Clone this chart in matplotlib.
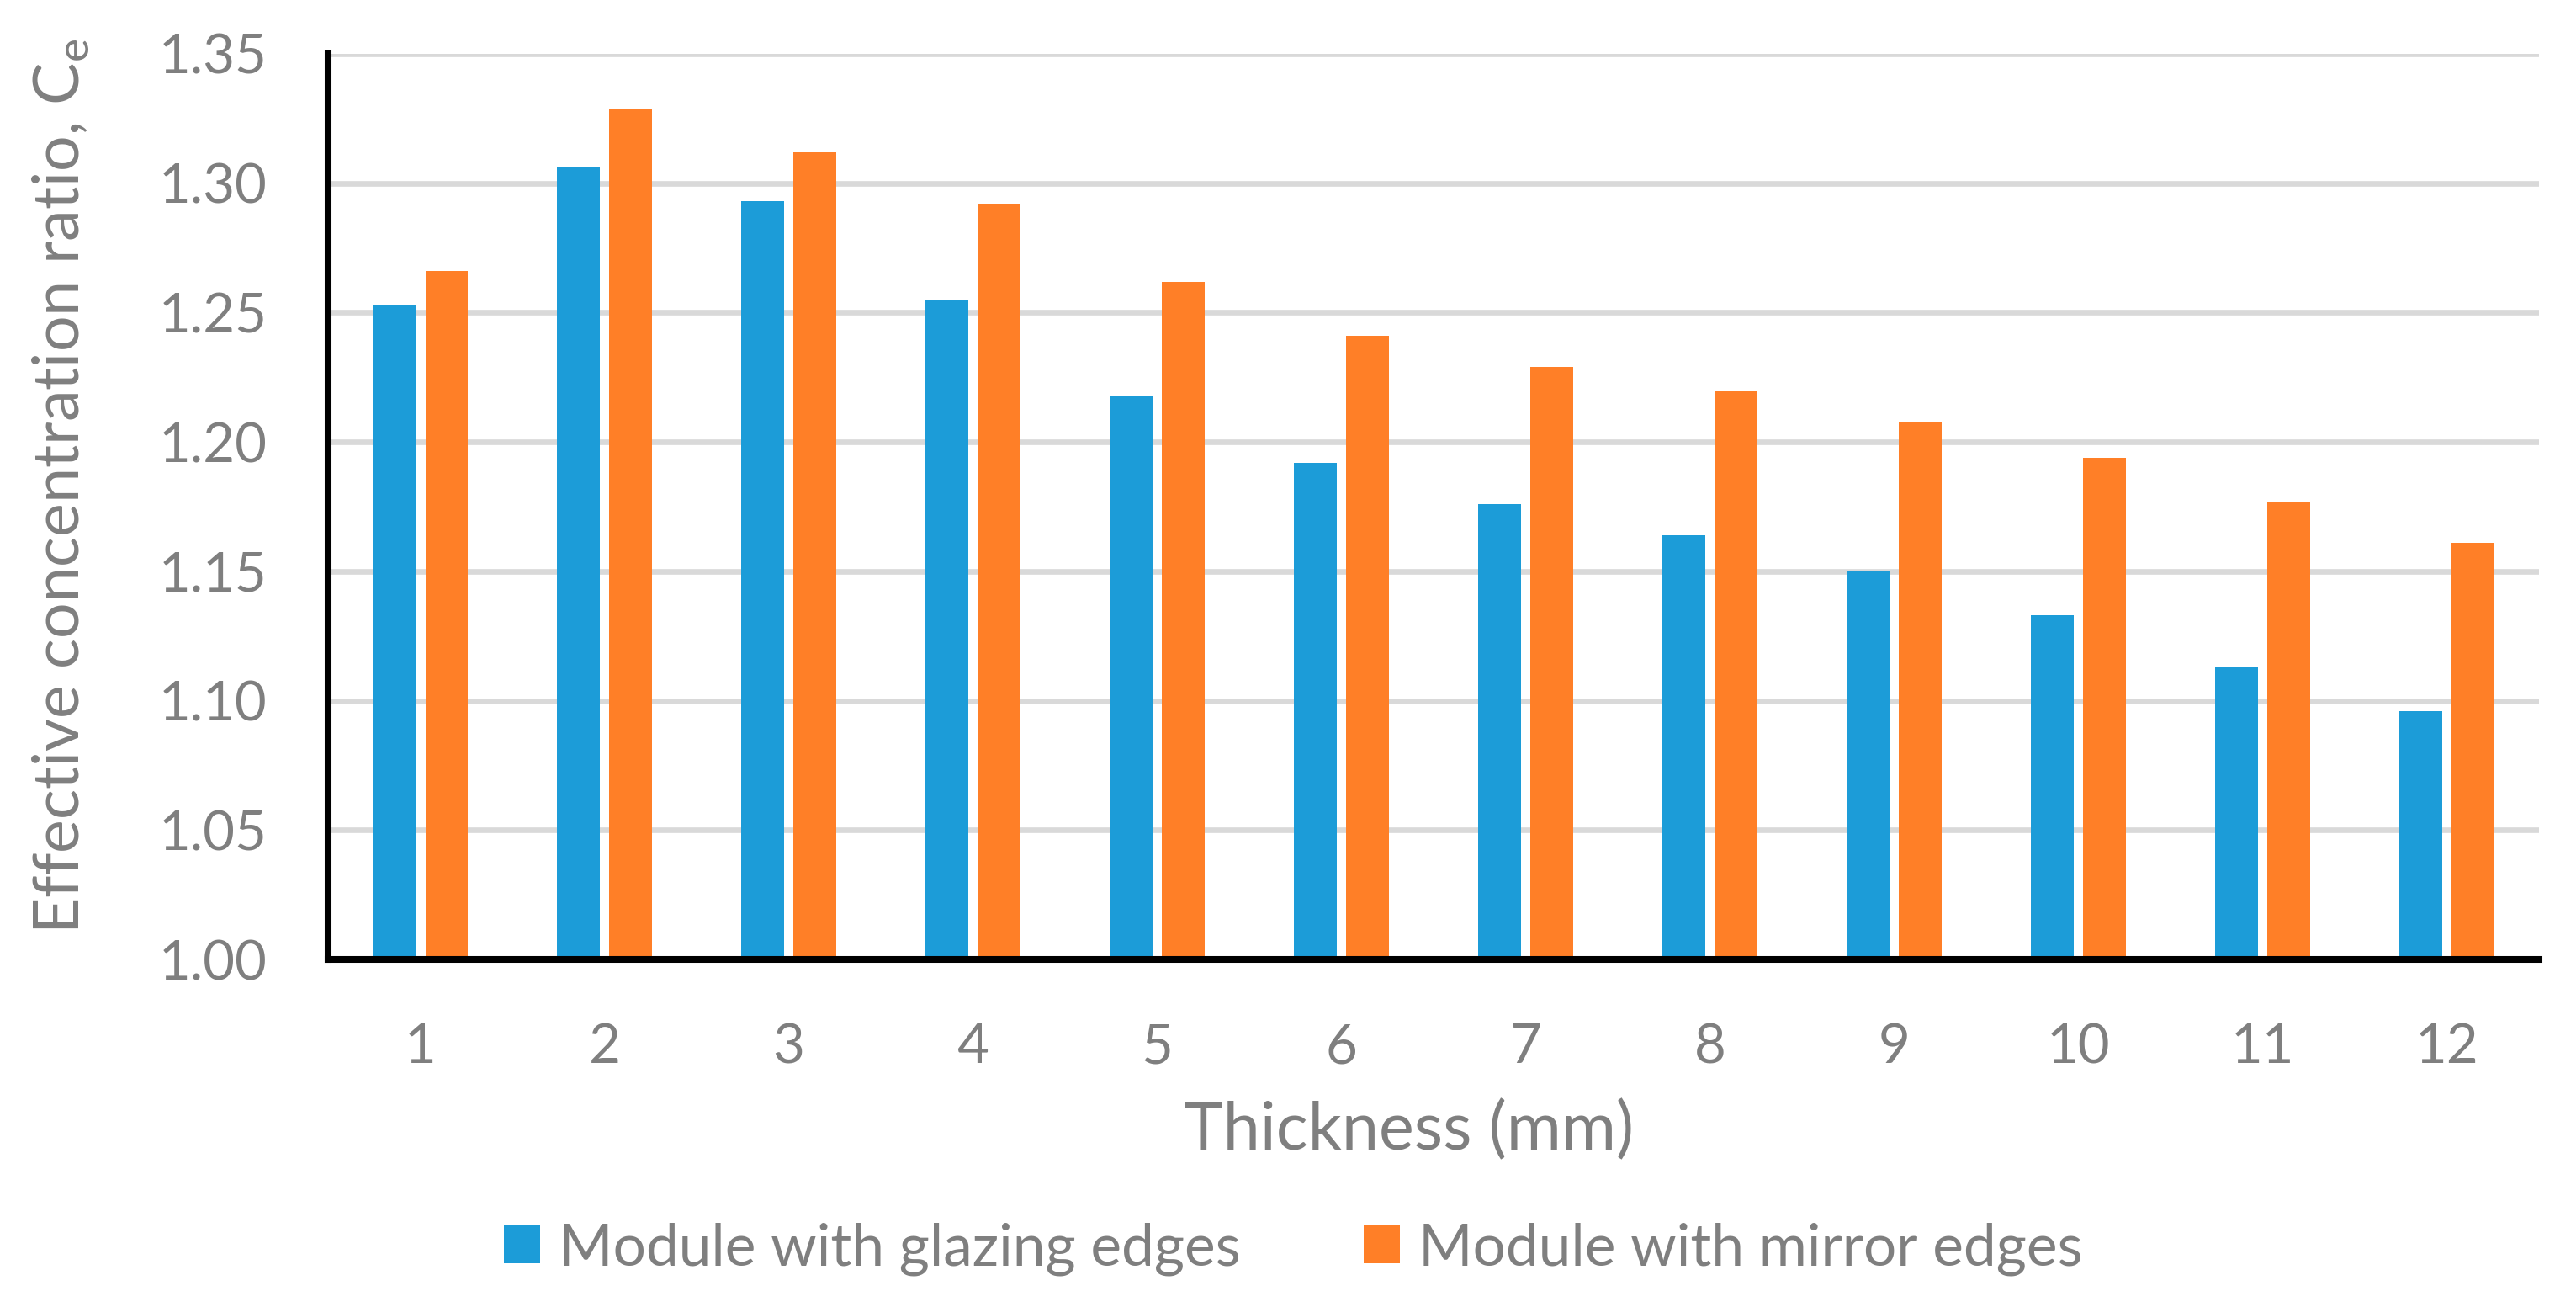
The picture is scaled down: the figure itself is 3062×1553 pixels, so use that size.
import numpy as np
import matplotlib.pyplot as plt

# --- DATA ---
thickness = [1, 2, 3, 4, 5, 6, 7, 8, 9, 10, 11, 12]
glazing = [1.253, 1.306, 1.293, 1.255, 1.218, 1.192, 1.176, 1.164, 1.150, 1.133, 1.113, 1.096]
mirror = [1.266, 1.329, 1.312, 1.292, 1.262, 1.241, 1.229, 1.220, 1.208, 1.194, 1.177, 1.161]
yticks = [1.00, 1.05, 1.10, 1.15, 1.20, 1.25, 1.30, 1.35]

# --- STYLE ---
GRAY = "#7f7f7f"
BLUE = "#1c9cd8"
ORANGE = "#ff7f27"
plt.rcParams["font.family"] = ["Lato", "DejaVu Sans"]
plt.rcParams["mathtext.fontset"] = "custom"
plt.rcParams["mathtext.rm"] = "Lato"

fig = plt.figure(figsize=(3062 / 200, 1553 / 200), dpi=200)
ax = fig.add_axes([0.1274, 0.2659, 0.8582, 0.6929])

x = np.arange(len(thickness)) + 1
w = 0.23
off = 0.142
ax.bar(x - off, glazing, w, color=BLUE, label="Module with glazing edges", zorder=2)
ax.bar(x + off, mirror, w, color=ORANGE, label="Module with mirror edges", zorder=2)

ax.set_xlim(0.5, 12.5)
ax.set_ylim(1.0, 1.35)
ax.set_xticks(x)
ax.set_xticklabels([str(t) for t in thickness])
ax.set_yticks(yticks)
ax.set_yticklabels([f"{v:.2f}" for v in yticks])
ax.tick_params(axis="both", length=0, labelsize=23.5, colors=GRAY)
ax.tick_params(axis="x", pad=27)
ax.tick_params(axis="y", pad=26)

ax.yaxis.grid(True, color="#d9d9d9", linewidth=2.4, zorder=0)
ax.set_axisbelow(True)

for s in ["top", "right"]:
    ax.spines[s].set_visible(False)
for s in ["left", "bottom"]:
    ax.spines[s].set_linewidth(2.9)
    ax.spines[s].set_color("black")
    ax.spines[s].set_capstyle("projecting")
    ax.spines[s].set_zorder(3)

fig.text(72 / 3062, 0.628, "Effective concentration ratio, C$_\\mathrm{e}$",
         rotation=90, ha="center", va="center", fontsize=27.2, color=GRAY)
fig.text(0.547, 1 - 1344 / 1553, "Thickness (mm)", ha="center", va="center",
         fontsize=28.5, color=GRAY)

fig.legend(loc="center", bbox_to_anchor=(0.502, 1 - 1484 / 1553), ncol=2, frameon=False,
           fontsize=25, labelcolor=GRAY, handlelength=0.62, handleheight=0.62,
           handletextpad=0.32, columnspacing=2.1)

fig.savefig("out.png", dpi=200)
